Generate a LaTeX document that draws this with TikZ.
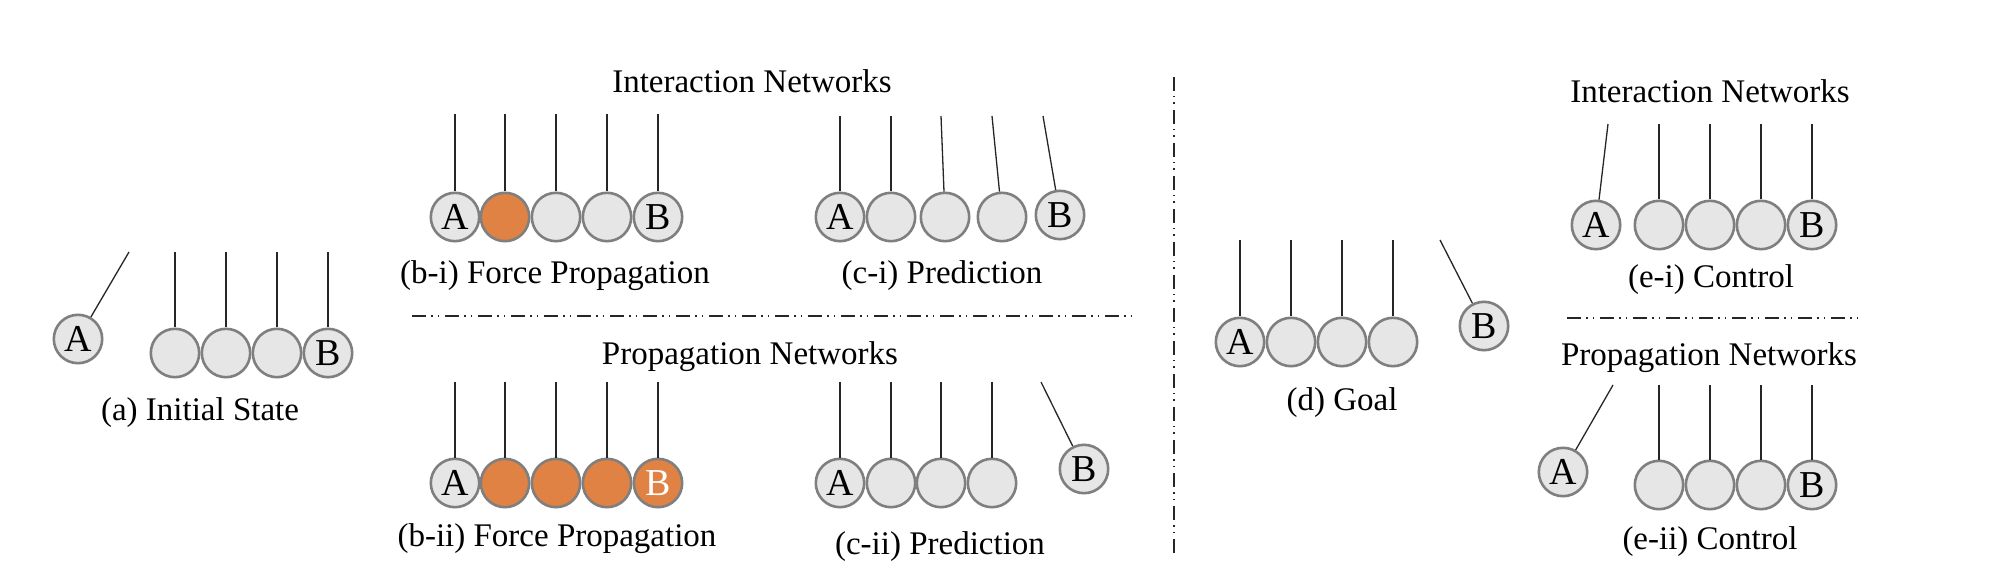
\documentclass[tikz,border=0pt]{standalone}
\usepackage{fontspec}
\setmainfont{Liberation Serif}
\definecolor{ballfill}{HTML}{E6E6E6}
\definecolor{ballline}{HTML}{7F7F7F}
\definecolor{orangeball}{HTML}{E08243}
\tikzset{
  ball/.style={circle, draw=ballline, fill=ballfill, line width=1.3pt, minimum size=24.2pt, inner sep=0pt, font=\fontsize{19}{19}\selectfont},
  oball/.style={ball, fill=orangeball},
  str/.style={line width=0.65pt, draw=black!85},
  sep/.style={line width=0.8pt, draw=black!85, dash pattern=on 7pt off 2.5pt on 0.75pt off 2.5pt on 0.75pt off 3pt},
  lbl/.style={font=\fontsize{16.5}{17}\selectfont, inner sep=0pt},
}
\begin{document}
\begin{tikzpicture}[x=0.5pt, y=-0.5pt]
\useasboundingbox (0,0) rectangle (2002,582);

% ---------- (a) Initial State ----------
\node[ball] (aA) at (78,339) {A};
\coordinate (apA) at (129,252);
\draw[str] (apA) -- (aA);
\foreach \i/\x in {1/175,2/226,3/277} {
  \node[ball] (a\i) at (\x,353) {};
  \coordinate (ap\i) at (\x,252);
  \draw[str] (ap\i) -- (a\i);
}
\node[ball] (aB) at (328,353) {B};
\coordinate (apB) at (328,252);
\draw[str] (apB) -- (aB);
\node[lbl] (la) at (200,413) {(a) Initial State};

% ---------- headings middle ----------
\node[lbl] (hin) at (752,81) {Interaction Networks};
\node[lbl] (hpn) at (750,357) {Propagation Networks};

% ---------- (b-i) ----------
\node[ball] (biA) at (455,217) {A};
\node[oball] (bi1) at (505,217) {};
\node[ball] (bi2) at (556,217) {};
\node[ball] (bi3) at (607,217) {};
\node[ball] (biB) at (658,217) {B};
\foreach \n/\x in {A/455,1/505,2/556,3/607,B/658} {
  \coordinate (bip\n) at (\x,114);
  \draw[str] (bip\n) -- (bi\n);
}
\node[lbl] (lbi) at (555,276) {(b-i) Force Propagation};

% ---------- (c-i) ----------
\node[ball] (ciA) at (840,217) {A};
\node[ball] (ci1) at (891,217) {};
\node[ball] (ci2) at (945,217) {};
\node[ball] (ci3) at (1002,217) {};
\node[ball] (ciB) at (1060,215) {B};
\foreach \n/\x in {A/840,1/891,2/941,3/992,B/1043} {
  \coordinate (cip\n) at (\x,116);
  \draw[str] (cip\n) -- (ci\n);
}
\node[lbl] (lci) at (942,276) {(c-i) Prediction};

% ---------- middle separator ----------
\coordinate (s1a) at (412,316);
\coordinate (s1b) at (1132,316);
\draw[sep] (s1a) -- (s1b);

% ---------- (b-ii) ----------
\node[ball] (biiA) at (455,483) {A};
\node[oball] (bii1) at (505,483) {};
\node[oball] (bii2) at (556,483) {};
\node[oball] (bii3) at (607,483) {};
\node[oball, text=white] (biiB) at (658,483) {B};
\foreach \n/\x in {A/455,1/505,2/556,3/607,B/658} {
  \coordinate (biip\n) at (\x,382);
  \draw[str] (biip\n) -- (bii\n);
}
\node[lbl] (lbii) at (557,539) {(b-ii) Force Propagation};

% ---------- (c-ii) ----------
\node[ball] (ciiA) at (840,483) {A};
\node[ball] (cii1) at (891,483) {};
\node[ball] (cii2) at (941,483) {};
\node[ball] (cii3) at (992,483) {};
\foreach \n/\x in {A/840,1/891,2/941,3/992} {
  \coordinate (ciip\n) at (\x,382);
  \draw[str] (ciip\n) -- (cii\n);
}
\node[ball] (ciiB) at (1084,469) {B};
\coordinate (ciipB) at (1041,382);
\draw[str] (ciipB) -- (ciiB);
\node[lbl] (lcii) at (940,547) {(c-ii) Prediction};

% ---------- vertical separator ----------
\coordinate (v1) at (1174,77);
\coordinate (v2) at (1174,555);
\draw[sep] (v1) -- (v2);

% ---------- (d) Goal ----------
\node[ball] (dA) at (1240,342) {A};
\node[ball] (d1) at (1291,342) {};
\node[ball] (d2) at (1342,342) {};
\node[ball] (d3) at (1393,342) {};
\foreach \n/\x in {A/1240,1/1291,2/1342,3/1393} {
  \coordinate (dp\n) at (\x,240);
  \draw[str] (dp\n) -- (d\n);
}
\node[ball] (dB) at (1484,326) {B};
\coordinate (dpB) at (1440,240);
\draw[str] (dpB) -- (dB);
\node[lbl] (ld) at (1342,403) {(d) Goal};

% ---------- (e-i) ----------
\node[lbl] (hin2) at (1710,91) {Interaction Networks};
\node[ball] (eiA) at (1596,225) {A};
\coordinate (eipA) at (1608,124);
\draw[str] (eipA) -- (eiA);
\node[ball] (ei1) at (1659,225) {};
\node[ball] (ei2) at (1710,225) {};
\node[ball] (ei3) at (1761,225) {};
\node[ball] (eiB) at (1812,225) {B};
\foreach \n/\x in {1/1659,2/1710,3/1761,B/1812} {
  \coordinate (eip\n) at (\x,124);
  \draw[str] (eip\n) -- (ei\n);
}
\node[lbl] (lei) at (1711,280) {(e-i) Control};

\coordinate (s2a) at (1567,318);
\coordinate (s2b) at (1857,318);
\draw[sep] (s2a) -- (s2b);

% ---------- (e-ii) ----------
\node[lbl] (hpn2) at (1709,358) {Propagation Networks};
\node[ball] (eiiA) at (1563,472) {A};
\coordinate (eiipA) at (1613,385);
\draw[str] (eiipA) -- (eiiA);
\node[ball] (eii1) at (1659,485) {};
\node[ball] (eii2) at (1710,485) {};
\node[ball] (eii3) at (1761,485) {};
\node[ball] (eiiB) at (1812,485) {B};
\foreach \n/\x in {1/1659,2/1710,3/1761,B/1812} {
  \coordinate (eiip\n) at (\x,385);
  \draw[str] (eiip\n) -- (eii\n);
}
\node[lbl] (leii) at (1710,542) {(e-ii) Control};
\end{tikzpicture}
\end{document}
